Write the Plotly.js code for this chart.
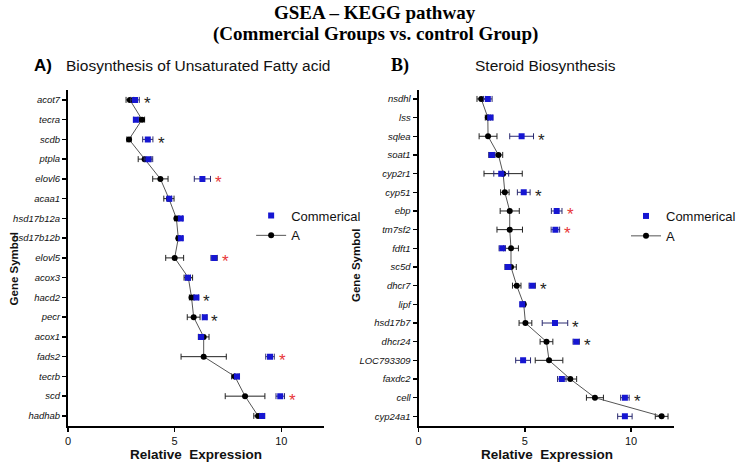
<!DOCTYPE html>
<html>
<head>
<meta charset="utf-8">
<script src="https://cdn.plot.ly/plotly-3.0.1.min.js"></script>
<style>html,body{margin:0;padding:0;background:#fff;}#chart{width:741px;height:462px;}</style>
</head>
<body>
<div id="chart"></div>
<script>
// ---- Panel A: Biosynthesis of Unsaturated Fatty acid ----
var genesA = ["acot7","tecra","scdb","ptpla","elovl6","acaa1","hsd17b12a","hsd17b12b","elovl5","acox3","hacd2","pecr","acox1","fads2","tecrb","scd","hadhab"];
var ctrlA = [2.90,3.47,2.86,3.59,4.33,4.73,5.08,5.17,5.00,5.64,5.79,5.89,6.36,6.36,7.82,8.30,8.91];
var ctrlAerr = [0.18,0.12,0.10,0.30,0.36,0.24,0.08,0.08,0.42,0.20,0.10,0.30,0.25,1.06,0.15,0.93,0.20];
var commA = [3.14,3.18,3.74,3.77,6.30,4.75,5.29,5.29,6.85,5.62,6.02,6.41,6.24,9.47,7.92,9.95,9.10];
var commAerr = [0.20,0.10,0.24,0.20,0.38,0.10,0.08,0.08,0.15,0.12,0.10,0.10,0.12,0.20,0.12,0.20,0.12];
var sigA = ["k","","k","","r","","","","r","","k","k","","r","","r",""];

// ---- Panel B: Steroid Biosynthesis ----
var genesB = ["nsdhl","lss","sqlea","soat1","cyp2r1","cyp51","ebp","tm7sf2","fdft1","sc5d","dhcr7","lipf","hsd17b7","dhcr24","LOC793309","faxdc2","cell","cyp24a1"];
var ctrlB = [2.95,3.26,3.27,3.76,3.98,4.06,4.29,4.29,4.35,4.35,4.62,4.95,5.03,6.02,6.14,7.14,8.30,11.44];
var ctrlBerr = [0.20,0.12,0.42,0.20,0.90,0.20,0.45,0.60,0.35,0.25,0.20,0.08,0.30,0.30,0.65,0.30,0.40,0.30];
var commB = [3.26,3.38,4.85,3.45,3.89,4.95,6.50,6.44,3.94,4.21,5.35,4.88,6.42,7.42,4.92,6.74,9.71,9.71];
var commBerr = [0.20,0.12,0.56,0.15,0.35,0.30,0.25,0.20,0.15,0.15,0.15,0.10,0.60,0.15,0.35,0.20,0.20,0.34];
var sigB = ["","","k","","","k","r","r","","","k","","k","k","","","k","r"];

var xTicks = [0,5,10];
var seriesNames = ["Commerical","A"];

var SANS = "Liberation Sans, Arial, sans-serif";
var SERIF = "Liberation Serif, Times New Roman, serif";
var BLUE = "rgb(22,22,210)";

function panelTraces(genes, a, ae, c, ce, xa, ya, legendId) {
  return [
    {
      type: "scatter", mode: "lines+markers", name: seriesNames[1],
      x: a, y: genes, xaxis: xa, yaxis: ya, legend: legendId, legendrank: 2,
      line: {color: "#555", width: 1},
      marker: {color: "#000", size: 6, symbol: "circle"},
      error_x: {type: "data", array: ae, visible: true, color: "#222", thickness: 1, width: 3}
    },
    {
      type: "scatter", mode: "markers", name: seriesNames[0],
      x: c, y: genes, xaxis: xa, yaxis: ya, legend: legendId, legendrank: 1,
      marker: {color: BLUE, size: 6, symbol: "square"},
      error_x: {type: "data", array: ce, visible: true, color: "#2a2a70", thickness: 1, width: 3}
    }
  ];
}

var data = [].concat(
  panelTraces(genesA, ctrlA, ctrlAerr, commA, commAerr, "x", "y", "legend"),
  panelTraces(genesB, ctrlB, ctrlBerr, commB, commBerr, "x2", "y2", "legend2")
);

function starAnns(genes, a, ae, c, ce, sig, xref, yref) {
  var out = [];
  for (var i = 0; i < genes.length; i++) {
    if (!sig[i]) continue;
    var xr = Math.max(c[i] + ce[i], a[i] + ae[i]) + 0.38;
    out.push({
      x: xr, y: genes[i], xref: xref, yref: yref, text: "*", showarrow: false,
      xanchor: "center", yanchor: "middle", yshift: -4,
      font: {family: SANS, size: 17, color: sig[i] === "r" ? "#e8363a" : "#222"}
    });
  }
  return out;
}

function P(px) { return px / 741; }
function Q(py) { return 1 - py / 462; }

var annotations = [
  {text: "<b>GSEA – KEGG pathway</b>", x: P(390), y: Q(12), xref: "paper", yref: "paper", showarrow: false, xanchor: "center", yanchor: "middle", font: {family: SERIF, size: 19, color: "#000"}},
  {text: "<b>(Commercial Groups vs. control Group)</b>", x: P(390), y: Q(34), xref: "paper", yref: "paper", showarrow: false, xanchor: "center", yanchor: "middle", font: {family: SERIF, size: 19, color: "#000"}},
  {text: "<b>A)</b>", x: P(45), y: Q(65), xref: "paper", yref: "paper", showarrow: false, xanchor: "center", yanchor: "middle", font: {family: SANS, size: 17, color: "#000"}},
  {text: "Biosynthesis of Unsaturated Fatty acid", x: P(206), y: Q(65), xref: "paper", yref: "paper", showarrow: false, xanchor: "center", yanchor: "middle", font: {family: SANS, size: 15.5, color: "#111"}},
  {text: "<b>B)</b>", x: P(416), y: Q(65), xref: "paper", yref: "paper", showarrow: false, xanchor: "center", yanchor: "middle", font: {family: SERIF, size: 18, color: "#000"}},
  {text: "Steroid Biosynthesis", x: P(567), y: Q(65), xref: "paper", yref: "paper", showarrow: false, xanchor: "center", yanchor: "middle", font: {family: SANS, size: 15.5, color: "#111"}},
  {text: "<b>Relative  Expression</b>", x: P(204), y: Q(454), xref: "paper", yref: "paper", showarrow: false, xanchor: "center", yanchor: "middle", font: {family: SANS, size: 13.5, color: "#111"}},
  {text: "<b>Relative  Expression</b>", x: P(568), y: Q(454), xref: "paper", yref: "paper", showarrow: false, xanchor: "center", yanchor: "middle", font: {family: SANS, size: 13.5, color: "#111"}},
  {text: "<b>Gene Symbol</b>", x: P(15), y: Q(268), xref: "paper", yref: "paper", showarrow: false, textangle: -90, xanchor: "center", yanchor: "middle", font: {family: SANS, size: 11.5, color: "#111"}},
  {text: "<b>Gene Symbol</b>", x: P(370), y: Q(265), xref: "paper", yref: "paper", showarrow: false, textangle: -90, xanchor: "center", yanchor: "middle", font: {family: SANS, size: 11.5, color: "#111"}}
].concat(
  starAnns(genesA, ctrlA, ctrlAerr, commA, commAerr, sigA, "x", "y"),
  starAnns(genesB, ctrlB, ctrlBerr, commB, commBerr, sigB, "x2", "y2")
);

function xAxis(domain, anchor) {
  return {
    domain: domain, anchor: anchor, range: [0, 12], tickvals: xTicks, ticktext: xTicks.map(String),
    showline: true, linecolor: "#000", linewidth: 2, ticks: "outside", ticklen: 4, tickwidth: 1.5, tickcolor: "#000",
    showgrid: false, zeroline: false, tickfont: {family: SANS, size: 11, color: "#111"}
  };
}
function yAxis(domain, anchor, n) {
  return {
    domain: domain, anchor: anchor, type: "category", range: [n - 0.5, -0.5],
    showline: true, linecolor: "#000", linewidth: 2, ticks: "outside", ticklen: 4, tickwidth: 1.5, tickcolor: "#000",
    showgrid: false, zeroline: false, tickfont: {family: SANS, size: 9.5, color: "#111", style: "italic"}
  };
}

var legendBase = {
  bgcolor: "rgba(0,0,0,0)", borderwidth: 0, font: {family: SANS, size: 13, color: "#111"},
  xanchor: "left", yanchor: "middle", itemwidth: 30, tracegroupgap: 4
};

var layout = {
  width: 741, height: 462,
  margin: {l: 0, r: 0, t: 0, b: 0},
  paper_bgcolor: "#fff", plot_bgcolor: "#fff",
  showlegend: true,
  xaxis: xAxis([P(70.7), P(336.7)], "y"),
  yaxis: yAxis([Q(425.8), Q(90)], "x", genesA.length),
  xaxis2: xAxis([P(435), P(700)], "y2"),
  yaxis2: yAxis([Q(425.7), Q(89.6)], "x2", genesB.length),
  legend: Object.assign({}, legendBase, {x: P(261), y: Q(225.5)}),
  legend2: Object.assign({}, legendBase, {x: P(651), y: Q(226)}),
  annotations: annotations
};

Plotly.newPlot("chart", data, layout, {displayModeBar: false, staticPlot: true});
</script>
</body>
</html>
